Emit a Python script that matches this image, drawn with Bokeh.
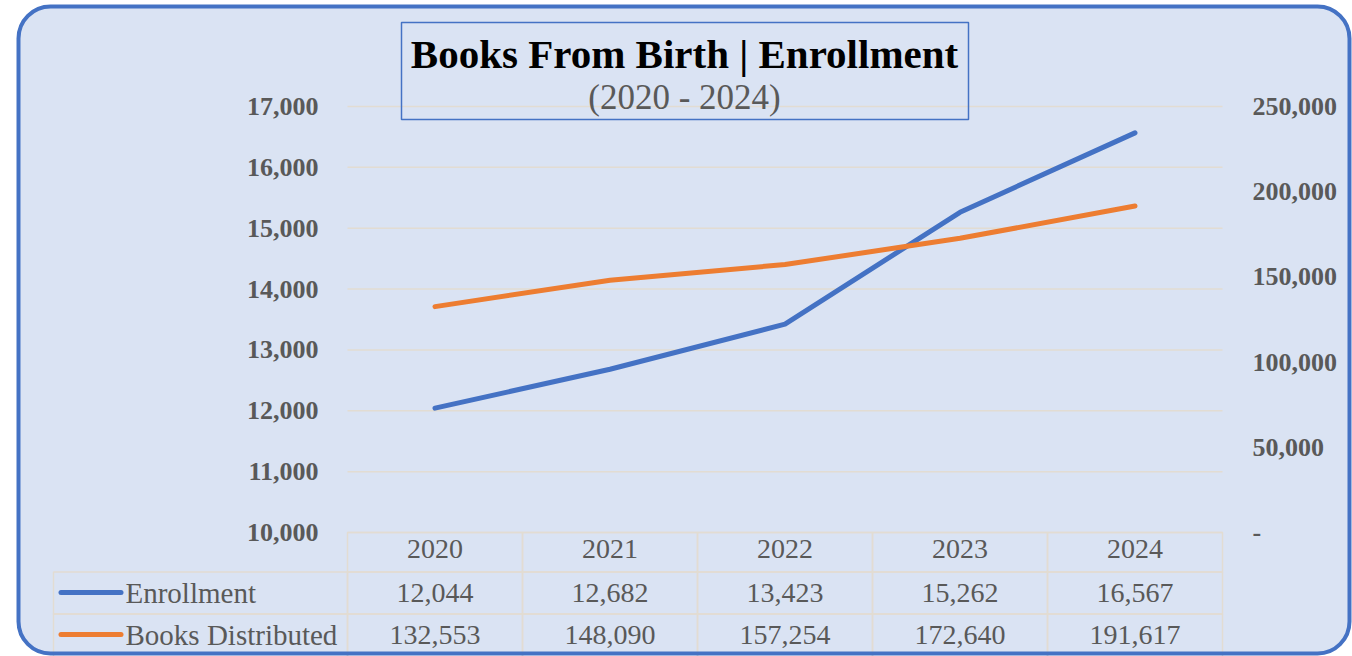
from bokeh.plotting import figure
from bokeh.models import (Range1d, LinearAxis, FixedTicker, NumeralTickFormatter,
                          BoxAnnotation, Label, LabelSet, ColumnDataSource)
from bokeh.embed import file_html
from bokeh.resources import INLINE

# ---------------- data ----------------
years = ["2020", "2021", "2022", "2023", "2024"]
enrollment = [12044, 12682, 13423, 15262, 16567]
books_distributed = [132553, 148090, 157254, 172640, 191617]
series_names = ["Enrollment", "Books Distributed"]
left_ticks = [10000, 11000, 12000, 13000, 14000, 15000, 16000, 17000]
right_ticks = [0, 50000, 100000, 150000, 200000, 250000]
title_text = "Books From Birth | Enrollment"
subtitle_text = "(2020 - 2024)"

# ---------------- styling ----------------
BLUE = "#4472C4"
ORANGE = "#ED7D31"
BG = "#DAE3F3"
GRID = "#E2DCD2"
TXT = "#595959"
SERIF = "Liberation Serif"

W, H = 1352, 656
FL, FR, FT, FB = 347, 1222, 106, 532   # plot-area edges (canvas px)
Y0, Y1 = left_ticks[0], left_ticks[-1]
R0, R1 = right_ticks[0], right_ticks[-1]
n = len(years)


def fx(px):
    return (px - FL) / (FR - FL) * n


def fy(py):
    return Y0 + (FB - py) * (Y1 - Y0) / (FB - FT)


def fr(py):
    return R0 + (FB - py) * (R1 - R0) / (FB - FT)


# category centres on the numeric x scale
xs = [i + 0.5 for i in range(n)]

p = figure(width=W, height=H,
           x_range=Range1d(fx(0), fx(W)), y_range=Range1d(fy(H), fy(0)),
           output_backend="svg", toolbar_location=None,
           min_border=0, min_border_left=0, min_border_right=0,
           min_border_top=0, min_border_bottom=0)
p.background_fill_color = None
p.border_fill_color = "white"
p.outline_line_color = None
p.xgrid.visible = False
p.ygrid.visible = False


def box(**kw):
    base = dict(fill_color=None, fill_alpha=1, line_alpha=1)
    base.update(kw)
    return BoxAnnotation(**base)


# chart background (rounded)
p.add_layout(box(left=fx(18), right=fx(1349), top=fy(6), bottom=fy(653),
                 fill_color=BG, line_color=None, border_radius=32, level="image"))

# gridlines across the plot area only
p.segment(x0=[0] * len(left_ticks), x1=[n] * len(left_ticks), y0=left_ticks, y1=left_ticks,
          line_color=GRID, line_width=1.5)


def style_axis(ax, size, bold):
    ax.axis_line_color = None
    ax.major_tick_line_color = None
    ax.minor_tick_line_color = None
    ax.major_tick_out = 0
    ax.major_tick_in = 0
    ax.major_label_text_font = SERIF
    ax.major_label_text_font_style = "bold" if bold else "normal"
    ax.major_label_text_font_size = size
    ax.major_label_text_color = TXT


# left axis
ya = p.yaxis[0]
ya.ticker = FixedTicker(ticks=left_ticks)
ya.formatter = NumeralTickFormatter(format="0,0")
ya.fixed_location = 0
ya.major_label_standoff = 29
style_axis(ya, "26px", True)

# right axis
p.extra_y_ranges = {"books": Range1d(fr(H), fr(0))}
ra = LinearAxis(y_range_name="books", ticker=FixedTicker(ticks=right_ticks),
                formatter=NumeralTickFormatter(format="0,0"),
                major_label_overrides={0: "-"}, fixed_location=n)
ra.major_label_standoff = 30
style_axis(ra, "26px", True)
p.add_layout(ra, "right")

# x axis = header row of the data table
xa = p.xaxis[0]
xa.ticker = FixedTicker(ticks=xs)
xa.major_label_overrides = {x: y for x, y in zip(xs, years)}
xa.fixed_location = Y0
xa.major_label_standoff = 7
style_axis(xa, "28px", False)

# series lines
p.line(xs, enrollment, line_width=5, line_color=BLUE, line_cap="round", line_join="round")
p.line(xs, books_distributed, y_range_name="books", line_width=5, line_color=ORANGE,
       line_cap="round", line_join="round")

# ---------------- data table ----------------
row_edges = [532, 571.5, 613.5, 662]
for i in range(n):
    p.add_layout(box(left=i, right=i + 1, top=fy(row_edges[0]), bottom=fy(row_edges[1]),
                     line_color=GRID, line_width=1.5))
for r in range(2):
    top, bot = fy(row_edges[r + 1]), fy(row_edges[r + 2])
    p.add_layout(box(left=fx(53), right=0, top=top, bottom=bot, line_color=GRID, line_width=1.5))
    for i in range(n):
        p.add_layout(box(left=i, right=i + 1, top=top, bottom=bot, line_color=GRID, line_width=1.5))

row_centers = [592, 634]
colors = [BLUE, ORANGE]
for name, col, yc in zip(series_names, colors, row_centers):
    p.add_layout(box(left=fx(58), right=fx(123), top=fy(yc - 2.5), bottom=fy(yc + 2.5),
                     fill_color=col, line_color=None, border_radius=3))
    p.add_layout(Label(x=fx(125), y=fy(yc), text=name, text_align="left", text_baseline="middle",
                       text_font=SERIF, text_font_size="29px", text_color=TXT))

src = ColumnDataSource(dict(
    x=xs,
    enroll_txt=[f"{v:,}" for v in enrollment],
    books_txt=[f"{v:,}" for v in books_distributed],
))
for field, yc in zip(["enroll_txt", "books_txt"], row_centers):
    p.add_layout(LabelSet(x="x", y=fy(yc), text=field, source=src, text_align="center",
                          text_baseline="middle", text_font=SERIF, text_font_size="28px",
                          text_color=TXT))

# ---------------- title ----------------
p.add_layout(box(left=fx(401), right=fx(968), top=fy(22), bottom=fy(119),
                 line_color=BLUE, line_width=1.5))
p.add_layout(Label(x=fx(684), y=fy(53), text=title_text, text_align="center", text_baseline="middle",
                   text_font=SERIF, text_font_style="bold", text_font_size="41px", text_color="black"))
p.add_layout(Label(x=fx(684), y=fy(97), text=subtitle_text, text_align="center", text_baseline="middle",
                   text_font=SERIF, text_font_size="35px", text_color=TXT))

# chart border
p.add_layout(box(left=fx(18), right=fx(1349), top=fy(6), bottom=fy(653),
                 line_color=BLUE, line_width=4, border_radius=32, level="overlay"))

open("out.html", "w").write(file_html(p, INLINE))
